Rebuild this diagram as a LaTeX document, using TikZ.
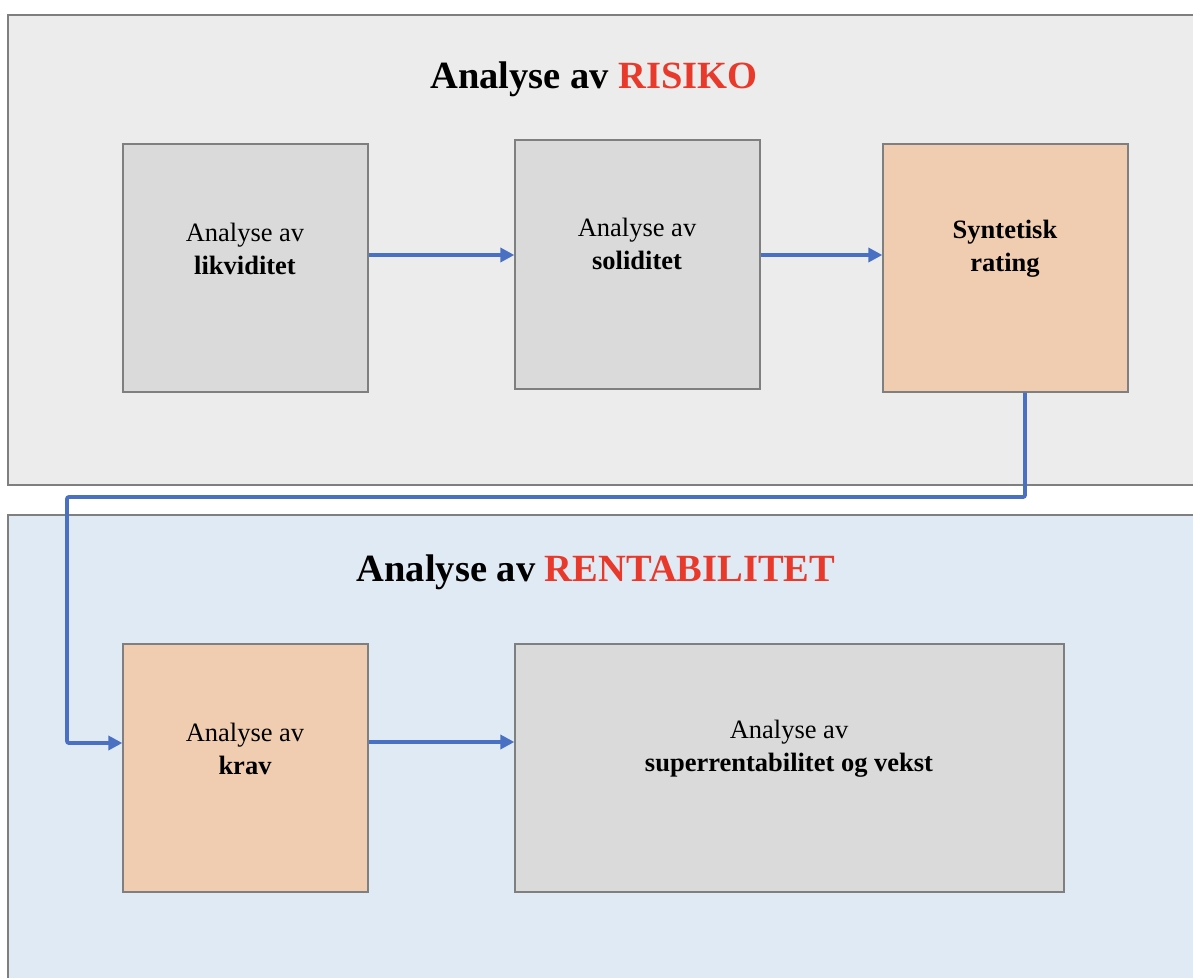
\documentclass[tikz,border=0pt]{standalone}
\usepackage{fontspec}
\setmainfont{Liberation Serif}
\usetikzlibrary{arrows.meta}
\definecolor{panelgray}{HTML}{ECECEC}
\definecolor{panelblue}{HTML}{E0EAF4}
\definecolor{boxgray}{HTML}{DADADA}
\definecolor{peach}{HTML}{F0CDB0}
\definecolor{edgegray}{HTML}{7F7F7F}
\definecolor{linkblue}{HTML}{4A70C4}
\definecolor{titlered}{HTML}{E8392B}
\tikzset{
  panel/.style={draw=edgegray, line width=1.5pt},
  stepbox/.style={draw=edgegray, line width=1.3pt, fill=boxgray, inner sep=0pt},
  peachbox/.style={stepbox, fill=peach},
  boxtext/.style={font=\fontsize{26.5}{33}\selectfont, align=center},
  title/.style={font=\fontsize{38.5}{44}\selectfont\bfseries},
  link/.style={draw=linkblue, line width=3.8pt, -{Triangle[length=14pt,width=14pt]}},
}
\begin{document}
\begin{tikzpicture}[x=1pt,y=-1pt]
\useasboundingbox (0,0) rectangle (1193,977);
\begin{scope}
\clip (0,0) rectangle (1193,977);
\draw[panel, fill=panelgray] (8,15) rectangle (1205,485);
\draw[panel, fill=panelblue] (8,515) rectangle (1205,995);
\end{scope}
\node[title] (t1) at (594,79) {Analyse av \textcolor{titlered}{RISIKO}};
\node[title] (t2) at (596,572) {Analyse av \textcolor{titlered}{RENTABILITET}};

\node[stepbox, minimum width=245pt, minimum height=248pt] (liq) at (245.5,268) {};
\node[stepbox, minimum width=245pt, minimum height=249pt] (sol) at (637.5,264.5) {};
\node[peachbox, minimum width=245pt, minimum height=248pt] (syn) at (1005.5,268) {};
\node[peachbox, minimum width=245pt, minimum height=248pt] (krav) at (245.5,768) {};
\node[stepbox, minimum width=549pt, minimum height=248pt] (sup) at (789.5,768) {};

\node[boxtext] (liqt) at (245,249) {Analyse av\\\textbf{likviditet}};
\node[boxtext] (solt) at (637,244) {Analyse av\\\textbf{soliditet}};
\node[boxtext] (synt) at (1005,249) {\textbf{Syntetisk}\\\textbf{rating}};
\node[boxtext] (kravt) at (245,749) {Analyse av\\\textbf{krav}};
\node[boxtext] (supt) at (789,749) {Analyse av\\\textbf{superrentabilitet og vekst}};

\coordinate (c1) at (1025,497);
\coordinate (c2) at (67,497);
\path[link] (liq.east |- 0,255) -- (sol.west |- 0,255);
\path[link] (sol.east |- 0,255) -- (syn.west |- 0,255);
\path[link, rounded corners=2pt] (syn.south -| c1) -- (c1) -- (c2) -- (c2 |- 0,743) -- (krav.west |- 0,743);
\path[link] (krav.east |- 0,742) -- (sup.west |- 0,742);
\end{tikzpicture}
\end{document}
